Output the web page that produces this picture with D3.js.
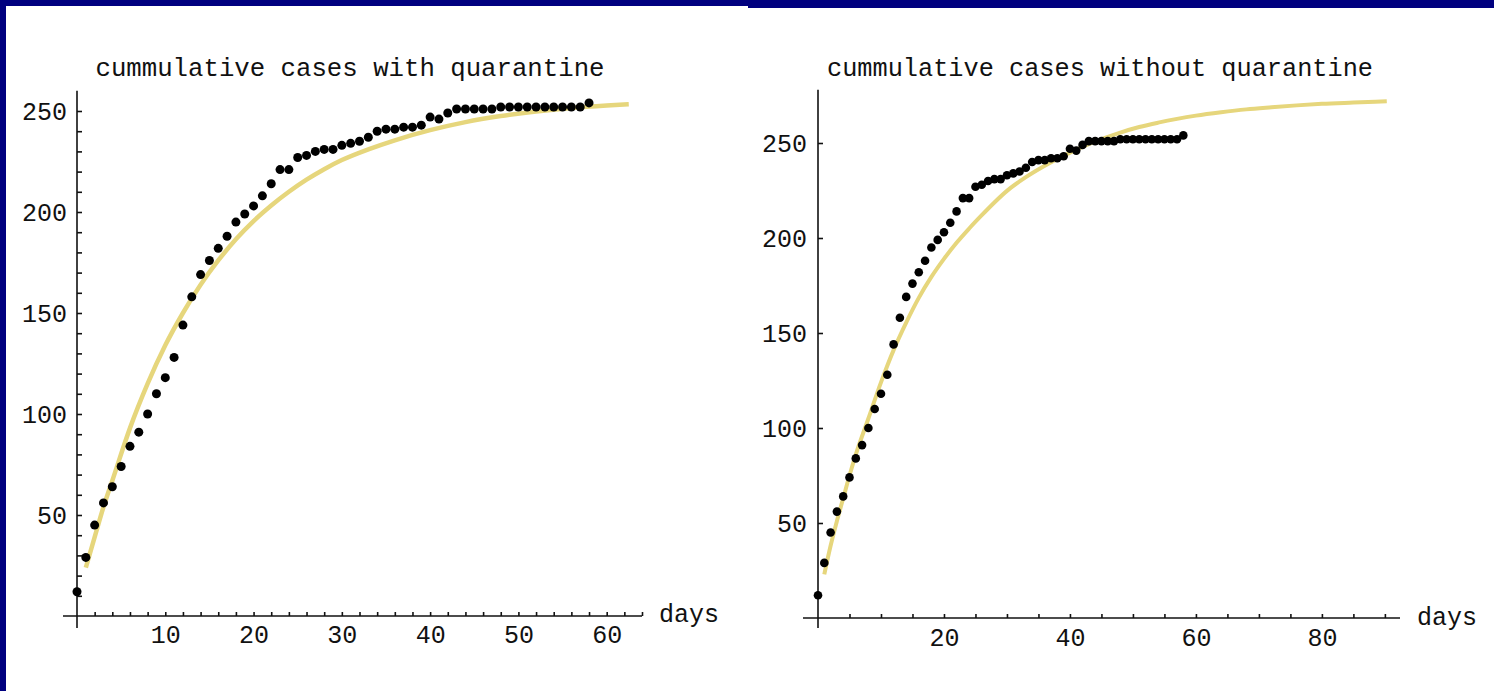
<!DOCTYPE html>
<html>
<head>
<meta charset="utf-8">
<script src="https://cdn.jsdelivr.net/npm/d3@7"></script>
<style>
  body { margin: 0; background: #00007f; }
  svg { display: block; }
  .tick text { font-family: "Liberation Mono", monospace; font-size: 25px; fill: #111; }
  .lbl { font-family: "Liberation Mono", monospace; font-size: 25px; fill: #111; }
</style>
</head>
<body>
<div id="vis"></div>
<script>
// cumulative cases, one value per day starting at day 0
const cases = [12, 29, 45, 56, 64, 74, 84, 91, 100, 110,
               118, 128, 144, 158, 169, 176, 182, 188, 195, 199,
               203, 208, 214, 221, 221, 227, 228, 230, 231, 231,
               233, 234, 235, 237, 240, 241, 241, 242, 242, 243,
               247, 246, 249, 251, 251, 251, 251, 251, 252, 252,
               252, 252, 252, 252, 252, 252, 252, 252, 254];

// fitted model, with quarantine
const fitQDays = [1, 2, 3, 4, 6, 8, 10, 12, 14, 16, 18, 20, 22, 24, 26, 28, 30,
                  33, 36, 40, 44, 48, 52, 56, 60, 62.5];
const fitQVals = [24, 39, 54, 67, 93, 115, 134, 150, 164, 176, 186.5, 195.5, 203.2, 210, 216, 221.2, 225.7,
                  231, 235.5, 240.5, 244.5, 247.5, 249.8, 251.5, 252.7, 253.3];

// fitted model, without quarantine
const fitNDays = [1, 2, 3, 4, 5, 6, 8, 10, 12, 14, 16, 18, 20, 22, 24, 26, 28, 30,
                  33, 36, 39, 42, 45, 48, 51, 54, 57, 60, 64, 68, 72, 76, 80, 85, 90.3];
const fitNVals = [23, 38, 51, 63, 75, 86, 105, 124, 141, 155.5, 168.5, 179.5, 189, 197.5, 205, 212, 218.7, 224.8,
                  232, 238, 243.3, 248, 252, 255.5, 258.4, 260.7, 262.7, 264.4, 266.2, 267.7, 268.8, 269.8, 270.6, 271.3, 272];

const leftXTicks = [10, 20, 30, 40, 50, 60];
const leftYTicks = [50, 100, 150, 200, 250];
const rightXTicks = [20, 40, 60, 80];
const rightYTicks = [50, 100, 150, 200, 250];

const WIDTH = 1494, HEIGHT = 691;
const CURVE_COLOR = "#e6d67c";

const svg = d3.select("#vis").append("svg")
    .attr("width", WIDTH)
    .attr("height", HEIGHT);

svg.append("rect").attr("x", 0).attr("y", 0).attr("width", WIDTH).attr("height", HEIGHT).attr("fill", "#00007f");
svg.append("rect").attr("x", 6).attr("y", 6).attr("width", 742).attr("height", HEIGHT - 6).attr("fill", "#fff");
svg.append("rect").attr("x", 748).attr("y", 8).attr("width", WIDTH - 748).attr("height", HEIGHT - 8).attr("fill", "#fff");

function drawPanel(p) {
  const g = svg.append("g");
  const x = d3.scaleLinear().domain(p.xDomain).range(p.xRange);
  const y = d3.scaleLinear().domain(p.yDomain).range(p.yRange);

  // axis lines (they cross past the origin)
  g.append("line")
    .attr("x1", x(p.xDomain[0]) - p.xOver).attr("x2", x(p.xDomain[1]))
    .attr("y1", y(0)).attr("y2", y(0))
    .attr("stroke", "#111").attr("stroke-width", 1.6);
  g.append("line")
    .attr("x1", x(0)).attr("x2", x(0))
    .attr("y1", y(p.yDomain[1])).attr("y2", y(0) + p.yOver)
    .attr("stroke", "#111").attr("stroke-width", 1.6);

  const xAxis = d3.axisBottom(x)
    .tickValues(p.xMinor)
    .tickSizeInner(-4).tickSizeOuter(0)
    .tickPadding(p.xPad)
    .tickFormat(d => p.xTicks.includes(d) ? d : "");
  g.append("g")
    .attr("transform", "translate(0," + y(0) + ")")
    .call(xAxis)
    .call(a => a.select(".domain").remove())
    .call(a => a.selectAll(".tick line").attr("stroke", "#111").attr("stroke-width", 1.6));

  const yAxis = d3.axisLeft(y)
    .tickValues(p.yMinor)
    .tickSizeInner(-5).tickSizeOuter(0)
    .tickPadding(p.yPad)
    .tickFormat(d => p.yTicks.includes(d) ? d : "");
  g.append("g")
    .attr("transform", "translate(" + x(0) + ",0)")
    .call(yAxis)
    .call(a => a.select(".domain").remove())
    .call(a => a.selectAll(".tick line").attr("stroke", "#111").attr("stroke-width", 1.6));

  // model curve
  const line = d3.line()
    .x(d => x(d[0]))
    .y(d => y(d[1]))
    .curve(d3.curveMonotoneX);
  g.append("path")
    .datum(d3.zip(p.fitDays, p.fitVals))
    .attr("d", line)
    .attr("fill", "none")
    .attr("stroke", CURVE_COLOR)
    .attr("stroke-width", p.curveWidth);

  // observed cases
  g.selectAll("circle.pt")
    .data(cases)
    .enter()
    .append("circle")
      .attr("class", "pt")
      .attr("cx", (d, i) => x(i))
      .attr("cy", d => y(d))
      .attr("r", p.r)
      .attr("fill", "#000");

  g.append("text").attr("class", "lbl")
    .attr("x", p.titleX).attr("y", 76)
    .attr("text-anchor", "middle")
    .attr("textLength", p.titleLen).attr("lengthAdjust", "spacingAndGlyphs")
    .text(p.title);

  g.append("text").attr("class", "lbl")
    .attr("x", p.daysX).attr("y", p.daysY)
    .text("days");
}

drawPanel({
  xDomain: [0, 64], xRange: [77, 642],
  yDomain: [0, 260], yRange: [616, 90.8],
  xOver: 14, yOver: 12,
  xMinor: d3.range(2, 65, 2), xTicks: leftXTicks, xPad: 9,
  yMinor: d3.range(10, 260, 10), yTicks: leftYTicks, yPad: 10,
  fitDays: fitQDays, fitVals: fitQVals, curveWidth: 4.5, r: 4.5,
  title: "cummulative cases with quarantine", titleX: 350, titleLen: 509,
  daysX: 659, daysY: 622
});

drawPanel({
  xDomain: [0, 92.4], xRange: [818, 1400],
  yDomain: [0, 278], yRange: [618, 89.8],
  xOver: 15, yOver: 10,
  xMinor: d3.range(5, 92, 5), xTicks: rightXTicks, xPad: 10,
  yMinor: rightYTicks, yTicks: rightYTicks, yPad: 11,
  fitDays: fitNDays, fitVals: fitNVals, curveWidth: 4, r: 4.3,
  title: "cummulative cases without quarantine", titleX: 1100, titleLen: 546,
  daysX: 1417, daysY: 625
});
</script>
</body>
</html>
